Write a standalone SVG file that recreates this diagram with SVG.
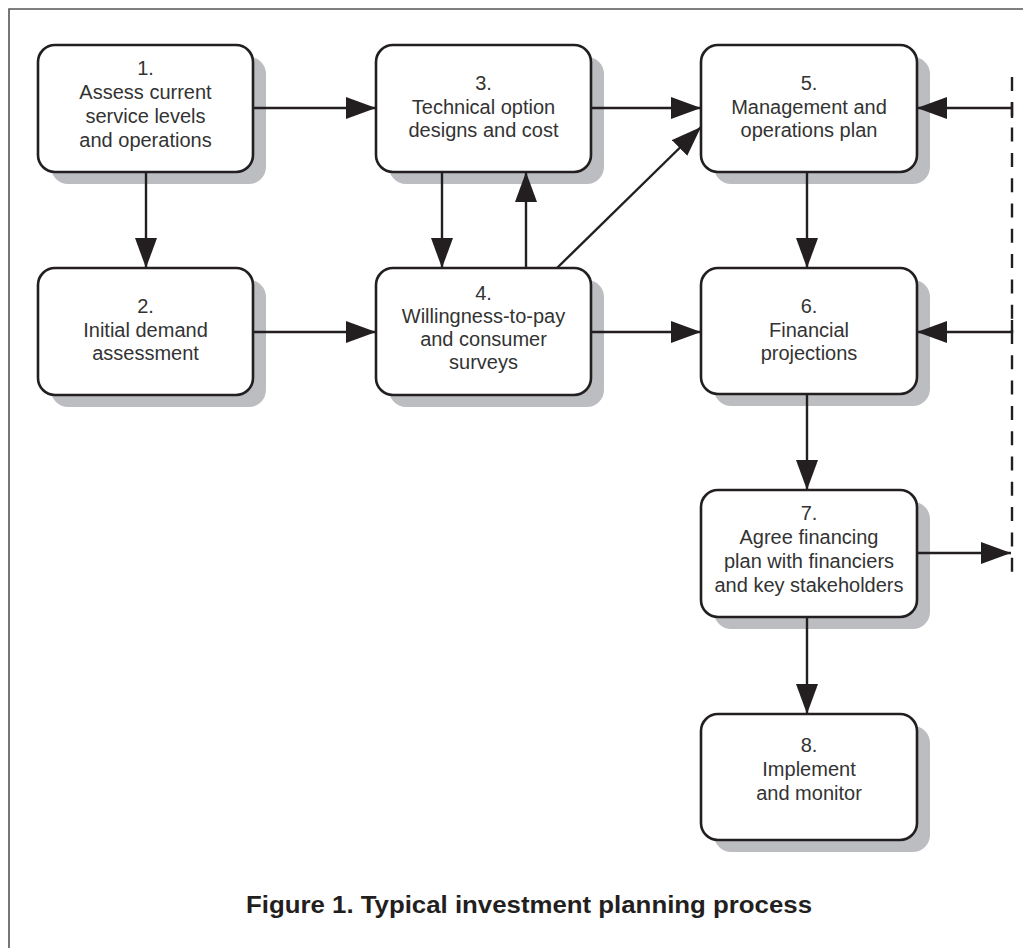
<svg xmlns="http://www.w3.org/2000/svg" width="1023" height="948" viewBox="0 0 1023 948">
<style>
.shadow{fill:#bcbdc0;stroke:none}
.box{fill:#ffffff;stroke:#231f20;stroke-width:2.6}
.lbl{font-family:"Liberation Sans",Arial,sans-serif;font-size:20px;fill:#333;text-anchor:middle}
.conn{stroke:#231f20;stroke-width:2.4;fill:none}
.cap{font-family:"Liberation Sans",Arial,sans-serif;font-size:23px;font-weight:bold;fill:#231f20;text-anchor:middle}
</style>
<defs>
<marker id="ah" markerUnits="userSpaceOnUse" markerWidth="30" markerHeight="22" refX="30" refY="11" orient="auto" viewBox="0 0 30 22">
<path d="M0,0 L30,11 L0,22 Z" fill="#231f20"/>
</marker>
</defs>
<rect width="1023" height="948" fill="#ffffff"/>
<g id="frame">
<path d="M9,948 L9,9 L1023,9" fill="none" stroke="#555" stroke-width="1.6"/>
</g>
<g id="n1">
<rect class="shadow" x="51" y="57" width="215" height="127" rx="17"/>
<rect class="box" x="38" y="45" width="215" height="127" rx="17"/>
<text class="lbl" x="145.5" y="75">1.</text>
<text class="lbl" x="145.5" y="99">Assess current</text>
<text class="lbl" x="145.5" y="123">service levels</text>
<text class="lbl" x="145.5" y="147">and operations</text>
</g>
<g id="n2">
<rect class="shadow" x="51" y="280" width="215" height="127" rx="17"/>
<rect class="box" x="38" y="268" width="215" height="127" rx="17"/>
<text class="lbl" x="145.5" y="313">2.</text>
<text class="lbl" x="145.5" y="337">Initial demand</text>
<text class="lbl" x="145.5" y="360">assessment</text>
</g>
<g id="n3">
<rect class="shadow" x="389" y="57" width="215" height="127" rx="17"/>
<rect class="box" x="376" y="45" width="215" height="127" rx="17"/>
<text class="lbl" x="483.5" y="90">3.</text>
<text class="lbl" x="483.5" y="114">Technical option</text>
<text class="lbl" x="483.5" y="137">designs and cost</text>
</g>
<g id="n4">
<rect class="shadow" x="389" y="280" width="215" height="127" rx="17"/>
<rect class="box" x="376" y="268" width="215" height="127" rx="17"/>
<text class="lbl" x="483.5" y="300">4.</text>
<text class="lbl" x="483.5" y="323">Willingness-to-pay</text>
<text class="lbl" x="483.5" y="346">and consumer</text>
<text class="lbl" x="483.5" y="369">surveys</text>
</g>
<g id="n5">
<rect class="shadow" x="714" y="57" width="216" height="127" rx="17"/>
<rect class="box" x="701" y="45" width="216" height="127" rx="17"/>
<text class="lbl" x="809" y="90">5.</text>
<text class="lbl" x="809" y="114">Management and</text>
<text class="lbl" x="809" y="137">operations plan</text>
</g>
<g id="n6">
<rect class="shadow" x="714" y="280" width="216" height="126" rx="17"/>
<rect class="box" x="701" y="268" width="216" height="126" rx="17"/>
<text class="lbl" x="809" y="313">6.</text>
<text class="lbl" x="809" y="337">Financial</text>
<text class="lbl" x="809" y="360">projections</text>
</g>
<g id="n7">
<rect class="shadow" x="714" y="502" width="216" height="127" rx="17"/>
<rect class="box" x="701" y="490" width="216" height="127" rx="17"/>
<text class="lbl" x="809" y="520">7.</text>
<text class="lbl" x="809" y="544">Agree financing</text>
<text class="lbl" x="809" y="568">plan with financiers</text>
<text class="lbl" x="809" y="592">and key stakeholders</text>
</g>
<g id="n8">
<rect class="shadow" x="714" y="726" width="216" height="126" rx="17"/>
<rect class="box" x="701" y="714" width="216" height="126" rx="17"/>
<text class="lbl" x="809" y="752">8.</text>
<text class="lbl" x="809" y="776">Implement</text>
<text class="lbl" x="809" y="800">and monitor</text>
</g>
<g id="connectors">
<path class="conn" marker-end="url(#ah)" d="M253,108 L376,108"/>
<path class="conn" marker-end="url(#ah)" d="M146,172 L146,268"/>
<path class="conn" marker-end="url(#ah)" d="M591,108 L701,108"/>
<path class="conn" marker-end="url(#ah)" d="M442,172 L442,268"/>
<path class="conn" marker-end="url(#ah)" d="M526,268 L526,172"/>
<path class="conn" marker-end="url(#ah)" d="M557,268 L701,127"/>
<path class="conn" marker-end="url(#ah)" d="M807,172 L807,268"/>
<path class="conn" marker-end="url(#ah)" d="M253,332 L376,332"/>
<path class="conn" marker-end="url(#ah)" d="M591,332 L701,332"/>
<path class="conn" marker-end="url(#ah)" d="M807,394 L807,490"/>
<path class="conn" marker-end="url(#ah)" d="M807,617 L807,714"/>
<path class="conn" marker-end="url(#ah)" d="M1012,108 L917,108"/>
<path class="conn" marker-end="url(#ah)" d="M1012,332 L917,332"/>
<path class="conn" marker-end="url(#ah)" d="M917,553 L1011,553"/>
<path class="conn" stroke-dasharray="14 11.3" d="M1012,77 L1012,577"/>
<path class="conn" d="M1012,102 L1012,118 M1012,320 L1012,333"/>
</g>
<text class="cap" x="529" y="913" textLength="566" lengthAdjust="spacingAndGlyphs">Figure 1. Typical investment planning process</text>
</svg>
